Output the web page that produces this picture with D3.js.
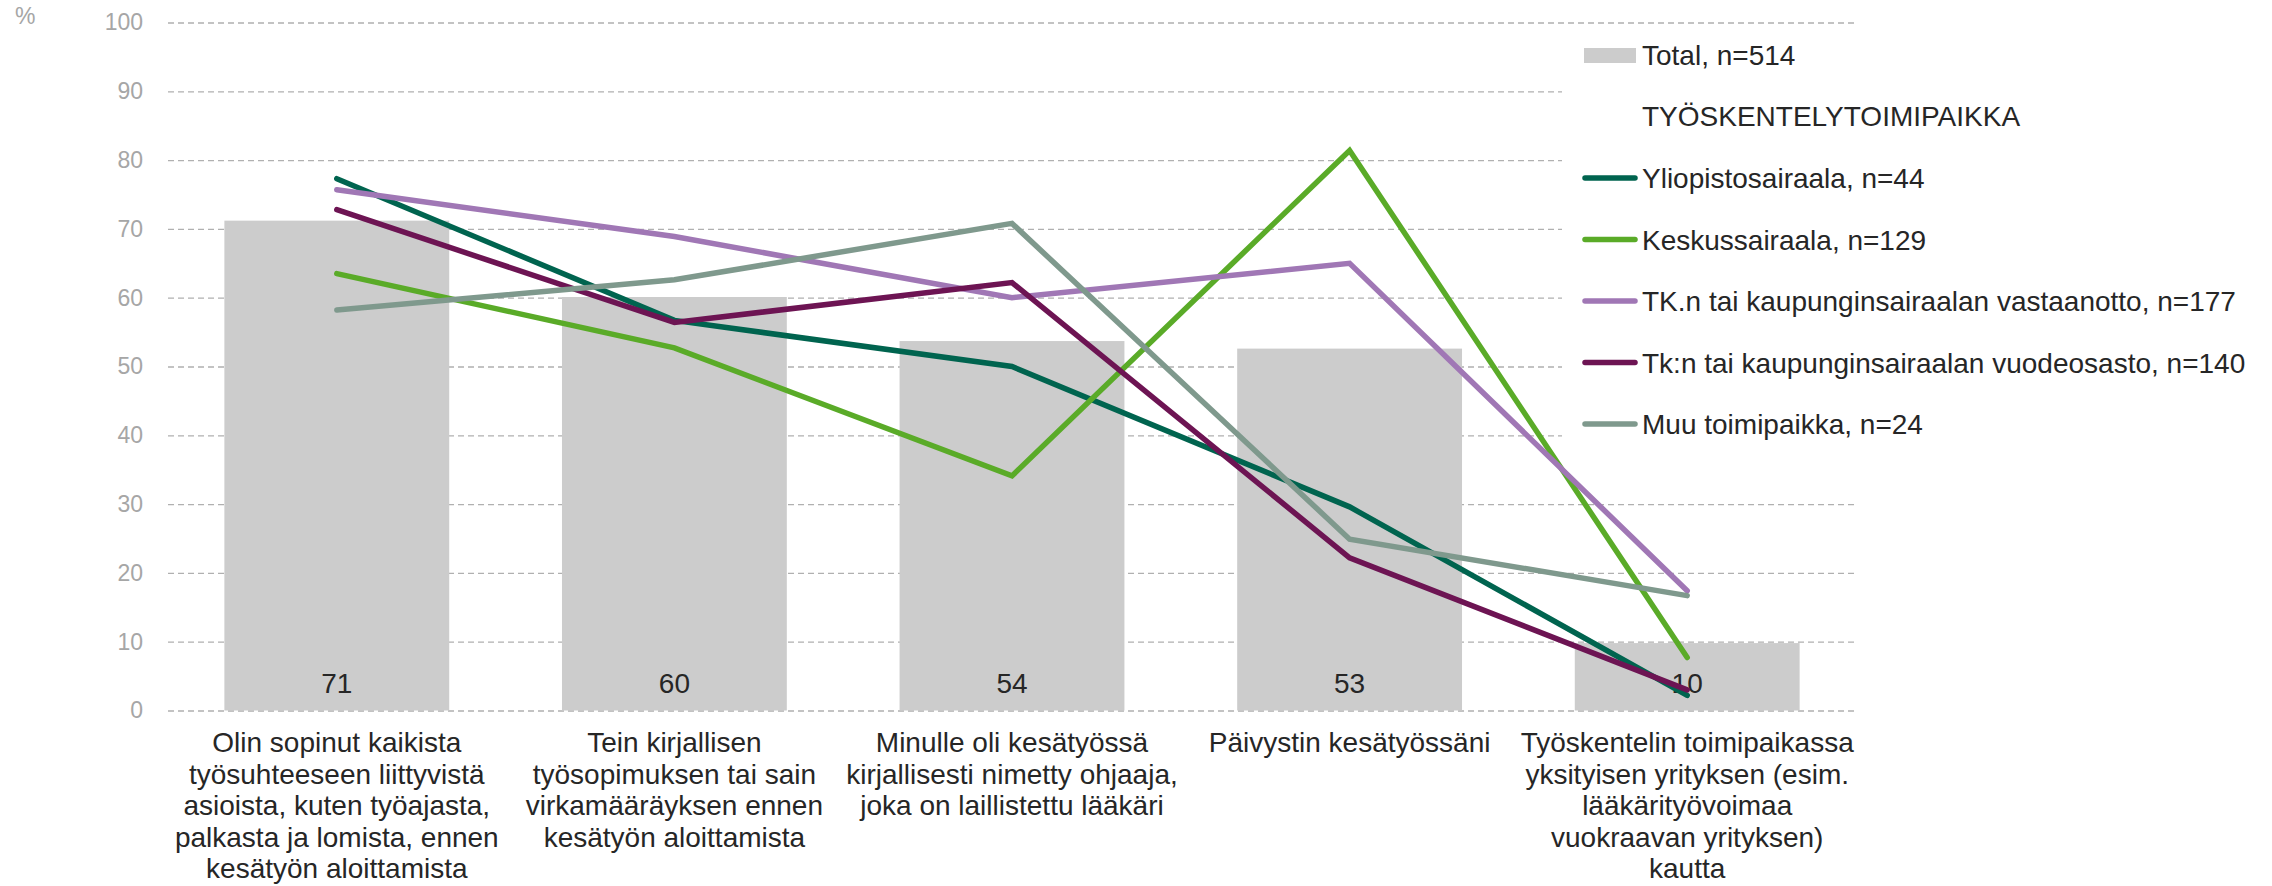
<!DOCTYPE html>
<html>
<head>
<meta charset="utf-8">
<script src="https://cdn.jsdelivr.net/npm/d3@7"></script>
<style>
  body { margin: 0; background: #fff; }
  text { font-family: "Liberation Sans", Arial, sans-serif; }
</style>
</head>
<body>
<div id="chart"></div>
<script>
// categories (each one split into the lines shown under the axis)
var categories = [
	["Olin sopinut kaikista", "työsuhteeseen liittyvistä", "asioista, kuten työajasta,", "palkasta ja lomista, ennen", "kesätyön aloittamista"],
	["Tein kirjallisen", "työsopimuksen tai sain", "virkamääräyksen ennen", "kesätyön aloittamista"],
	["Minulle oli kesätyössä", "kirjallisesti nimetty ohjaaja,", "joka on laillistettu lääkäri"],
	["Päivystin kesätyössäni"],
	["Työskentelin toimipaikassa", "yksityisen yrityksen (esim.", "lääkärityövoimaa", "vuokraavan yrityksen)", "kautta"]
];

var totalName = "Total, n=514";
var totalValues = [71.2, 60.1, 53.7, 52.6, 9.8];

var groupTitle = "TYÖSKENTELYTOIMIPAIKKA";
var seriesNames = [
	"Yliopistosairaala, n=44",
	"Keskussairaala, n=129",
	"TK.n tai kaupunginsairaalan vastaanotto, n=177",
	"Tk:n tai kaupunginsairaalan vuodeosasto, n=140",
	"Muu toimipaikka, n=24"
];
var yliopisto = [77.3, 56.7, 50.0, 29.6, 2.2];
var keskus = [63.5, 52.7, 34.1, 81.4, 7.7];
var tkVastaanotto = [75.7, 68.9, 60.0, 65.0, 17.4];
var tkVuodeosasto = [72.8, 56.4, 62.2, 22.2, 3.0];
var muu = [58.2, 62.6, 70.8, 24.9, 16.7];
var seriesValues = [yliopisto, keskus, tkVastaanotto, tkVuodeosasto, muu];
var seriesColors = ["#00644f", "#5aab28", "#a077b5", "#6d1453", "#7f998d"];

var yTicks = [0, 10, 20, 30, 40, 50, 60, 70, 80, 90, 100];

var width = 2272, height = 886;
var plot = {left: 168, right: 1856, top: 22.5, bottom: 710.5};

var svg = d3.select("#chart").append("svg")
	.attr("width", width)
	.attr("height", height);

var idx = d3.range(categories.length);

var x = d3.scaleBand()
	.domain(idx)
	.range([plot.left, plot.right])
	.paddingInner(0.334)
	.paddingOuter(0.167);

var y = d3.scaleLinear()
	.domain([0, 100])
	.range([plot.bottom, plot.top]);

function cx(i) { return x(i) + x.bandwidth() / 2; }

//gridlines
var grid = svg.append("g")
	.attr("transform", "translate(" + plot.left + ",0)")
	.call(d3.axisLeft(y).tickValues(yTicks).tickSize(-(plot.right - plot.left)).tickFormat(""));
grid.select(".domain").remove();
grid.selectAll("line")
	.attr("stroke", "#b0b0b0")
	.attr("stroke-width", 1.3)
	.attr("stroke-dasharray", "6,4");

//tick labels
var yAxis = svg.append("g")
	.attr("transform", "translate(" + plot.left + ",0)")
	.call(d3.axisLeft(y).tickValues(yTicks).tickSize(0).tickPadding(25));
yAxis.select(".domain").remove();
yAxis.selectAll("text")
	.attr("fill", "#a6a6a6")
	.style("font-size", "23px")
	.style("font-family", "'Liberation Sans', Arial, sans-serif");

svg.append("text")
	.attr("x", 15)
	.attr("y", 24)
	.attr("fill", "#a6a6a6")
	.style("font-size", "23px")
	.text("%");

// legend background hides the gridlines behind it
svg.append("rect")
	.attr("x", 1562)
	.attr("y", 32)
	.attr("width", 700)
	.attr("height", 430)
	.attr("fill", "#fff");

//bars
svg.append("g").selectAll("rect")
	.data(totalValues).enter()
	.append("rect")
	.attr("x", function(d, i) { return x(i); })
	.attr("y", function(d) { return y(d); })
	.attr("width", x.bandwidth())
	.attr("height", function(d) { return y(0) - y(d); })
	.attr("fill", "#cccccc");

svg.append("g").selectAll("text")
	.data(totalValues).enter()
	.append("text")
	.attr("x", function(d, i) { return cx(i); })
	.attr("y", 693)
	.attr("text-anchor", "middle")
	.attr("fill", "#262626")
	.style("font-size", "28px")
	.text(function(d) { return d3.format(".0f")(d); });

//lines
var line = d3.line()
	.x(function(d, i) { return cx(i); })
	.y(function(d) { return y(d); });

svg.append("g").selectAll("path")
	.data(seriesValues).enter()
	.append("path")
	.attr("d", line)
	.attr("fill", "none")
	.attr("stroke", function(d, i) { return seriesColors[i]; })
	.attr("stroke-width", 5.5)
	.attr("stroke-linecap", "round")
	.attr("stroke-linejoin", "miter");

//category labels
var cat = svg.append("g").selectAll("text")
	.data(categories).enter()
	.append("text")
	.attr("text-anchor", "middle")
	.attr("fill", "#262626")
	.style("font-size", "28px");
cat.each(function(lines, i) {
	d3.select(this).selectAll("tspan")
		.data(lines).enter()
		.append("tspan")
		.attr("x", cx(i))
		.attr("y", function(l, j) { return 752 + j * 31.5; })
		.text(function(l) { return l; });
});

//legend
var legend = svg.append("g");
legend.append("rect")
	.attr("x", 1584)
	.attr("y", 48)
	.attr("width", 52)
	.attr("height", 15)
	.attr("fill", "#cccccc");
legend.append("text")
	.attr("x", 1642)
	.attr("y", 65)
	.attr("fill", "#262626")
	.style("font-size", "28px")
	.text(totalName);
legend.append("text")
	.attr("x", 1642)
	.attr("y", 126)
	.attr("fill", "#262626")
	.style("font-size", "28px")
	.text(groupTitle);

var items = legend.selectAll(".item")
	.data(seriesNames).enter()
	.append("g")
	.attr("class", "item")
	.attr("transform", function(d, i) { return "translate(0," + (178 + i * 61.5) + ")"; });
items.append("line")
	.attr("x1", 1585)
	.attr("x2", 1635)
	.attr("stroke", function(d, i) { return seriesColors[i]; })
	.attr("stroke-width", 5.5)
	.attr("stroke-linecap", "round");
items.append("text")
	.attr("x", 1642)
	.attr("y", 10)
	.attr("fill", "#262626")
	.style("font-size", "28px")
	.text(function(d) { return d; });
</script>
</body>
</html>
